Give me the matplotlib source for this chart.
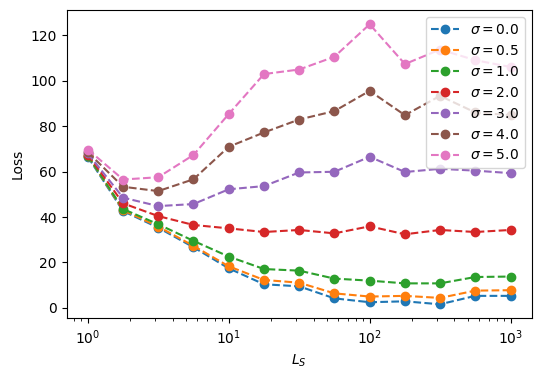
import numpy as np
import matplotlib
matplotlib.use('Agg')
import matplotlib.pyplot as plt

L_s = [1.0, 1.78, 3.16, 5.62, 10.0, 17.8, 31.6, 56.2, 100.0, 178.0, 316.0, 562.0, 1000.0]
sigmas = [0.0, 0.5, 1.0, 2.0, 3.0, 4.0, 5.0]

loss_s00 = [66.5, 42.6, 35.3, 26.7, 17.4, 10.4, 9.5, 4.2, 2.5, 2.9, 1.6, 5.3, 5.3]
loss_s05 = [67.0, 43.0, 35.8, 27.3, 18.3, 12.3, 11.1, 6.4, 5.0, 5.3, 4.4, 7.6, 7.8]
loss_s10 = [67.0, 43.5, 36.8, 29.5, 22.6, 17.1, 16.4, 12.9, 12.0, 10.8, 10.8, 13.6, 13.8]
loss_s20 = [67.5, 46.0, 40.4, 36.5, 35.0, 33.4, 34.3, 32.8, 35.9, 32.4, 34.3, 33.4, 34.3]
loss_s30 = [68.0, 48.5, 44.8, 45.7, 52.2, 53.6, 59.6, 59.9, 66.5, 59.8, 61.2, 60.4, 59.3]
loss_s40 = [68.5, 53.3, 51.4, 56.6, 70.9, 77.2, 82.9, 86.6, 95.5, 84.8, 93.3, 86.0, 84.8]
loss_s50 = [69.7, 56.5, 57.5, 67.3, 85.3, 102.9, 104.9, 110.5, 124.8, 107.3, 113.7, 109.0, 106.0]

all_losses = [loss_s00, loss_s05, loss_s10, loss_s20, loss_s30, loss_s40, loss_s50]


def main():
    fig, ax = plt.subplots(figsize=(5.4, 3.78), dpi=100)
    fig.subplots_adjust(left=0.1235, right=0.9846, top=0.9728, bottom=0.158)

    for sigma, loss in zip(sigmas, all_losses):
        ax.plot(L_s, loss, 'o--', label=rf'$\sigma = {sigma}$')

    ax.set_xscale('log')
    ax.set_xlabel(r'$L_S$')
    ax.set_ylabel('Loss')
    ax.legend(loc='upper right')

    fig.savefig('out.png', dpi=100)


if __name__ == '__main__':
    main()
